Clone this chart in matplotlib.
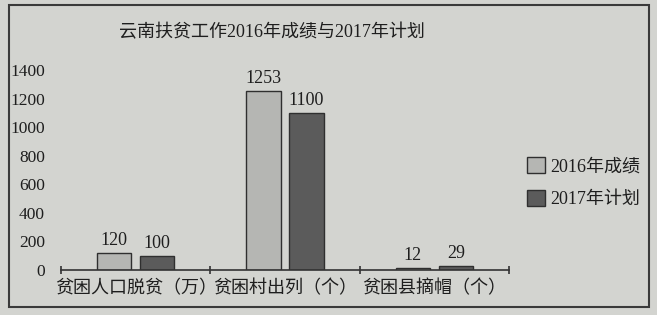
import matplotlib
matplotlib.use("Agg")
import matplotlib.pyplot as plt
from matplotlib.patches import Rectangle
import numpy as np

categories = ["贫困人口脱贫（万）", "贫困村出列（个）", "贫困县摘帽（个）"]
series_names = ["2016年成绩", "2017年计划"]
values_2016 = [120, 1253, 12]
values_2017 = [100, 1100, 29]
yticks = [0, 200, 400, 600, 800, 1000, 1200, 1400]

FONT = ["Liberation Serif", "Noto Sans CJK SC", "DejaVu Sans"]
plt.rcParams["font.family"] = FONT

bg = "#d3d4d0"
c2016 = "#b5b6b3"
c2017 = "#5b5b5b"
edge = "#2f2f2f"
txt = "#1e1e1e"

fig = plt.figure(figsize=(6.57, 3.15), dpi=100, facecolor=bg)
ax = fig.add_axes([61/657, 45/315, 448/657, 200/315])
ax.set_facecolor(bg)

x = np.arange(len(categories))
w = 0.228
off = 0.144
b1 = ax.bar(x - off, values_2016, w, color=c2016, edgecolor=edge, linewidth=1.0, label=series_names[0])
b2 = ax.bar(x + off, values_2017, w, color=c2017, edgecolor=edge, linewidth=1.0, label=series_names[1])

for bars, vals in ((b1, values_2016), (b2, values_2017)):
    for r, v in zip(bars, vals):
        ax.annotate(str(v), (r.get_x() + r.get_width()/2, v), xytext=(0, 3),
                    textcoords="offset points", ha="center", va="bottom",
                    fontsize=13, color=txt)

ax.set_xlim(-0.5, 2.5)
ax.set_ylim(0, 1400)
ax.set_yticks(yticks)
ax.set_yticklabels([str(t) for t in yticks], fontsize=12.5, color=txt)
ax.tick_params(axis="y", length=0, pad=11.5)
ax.set_xticks(x)
ax.set_xticklabels(categories, fontsize=13, color=txt)
ax.set_xticks([-0.5, 0.5, 1.5, 2.5], minor=True)
ax.tick_params(axis="x", which="major", length=0, pad=7)
ax.tick_params(axis="x", which="minor", length=6, width=1.2, color="#333333", direction="inout")
for s in ("top", "right", "left"):
    ax.spines[s].set_visible(False)
ax.spines["bottom"].set_color("#333333")
ax.spines["bottom"].set_linewidth(1.2)

fig.text(272/657, (315-33)/315, "云南扶贫工作2016年成绩与2017年计划", ha="center", va="center",
         fontsize=13, color=txt)

leg = fig.legend(handles=[b1, b2], loc="upper left", bbox_to_anchor=(518/657, (315-148)/315),
                 frameon=False, fontsize=13, handlelength=1.0, handleheight=1.0,
                 labelspacing=0.8, handletextpad=0.3, borderpad=0)
for t in leg.get_texts():
    t.set_color(txt)

fig.add_artist(Rectangle((9/657, 8/315), 640/657, 302/315, transform=fig.transFigure,
                         fill=False, edgecolor="#3a3a3a", linewidth=1.5))

fig.savefig("out.png", dpi=100, facecolor=bg)
